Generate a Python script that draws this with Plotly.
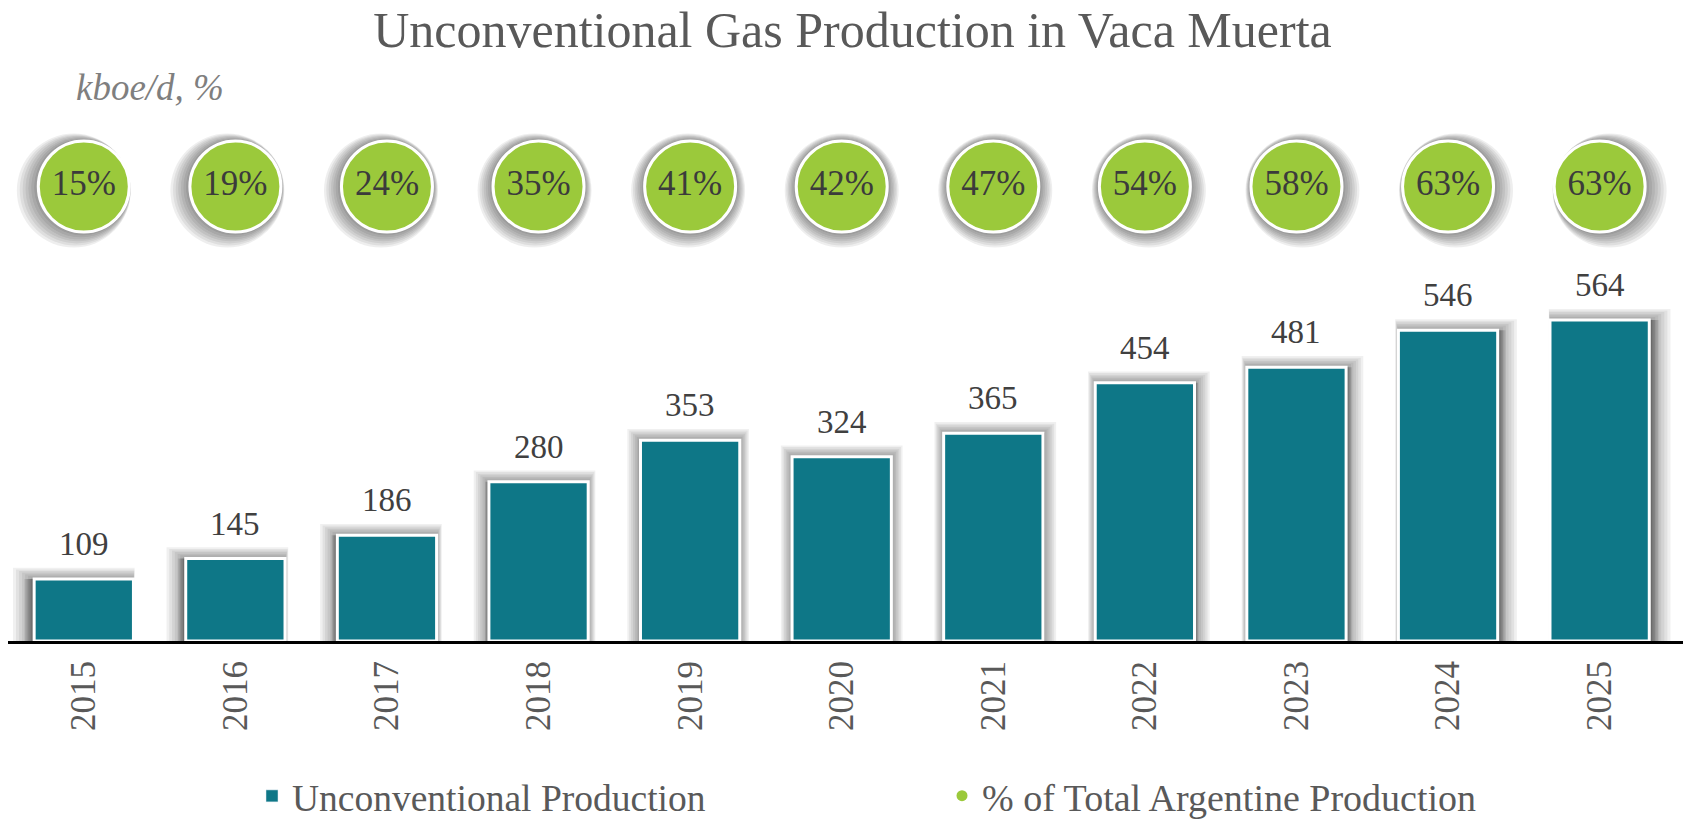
import plotly.graph_objects as go

# ---------------- data ----------------
years = ["2015", "2016", "2017", "2018", "2019", "2020", "2021", "2022", "2023", "2024", "2025"]
production = [109, 145, 186, 280, 353, 324, 365, 454, 481, 546, 564]
share_pct = [15, 19, 24, 35, 41, 42, 47, 54, 58, 63, 63]

title_text = "Unconventional Gas Production in Vaca Muerta"
unit_text = "kboe/d, %"
bar_name = "Unconventional Production"
dot_name = "% of Total Argentine Production"

# ---------------- style ----------------
TEAL = "#0E7787"
GREEN = "#9BC93B"
FONT = "Liberation Serif"
W, H = 1688, 820
ML, MR, MT, MB = 8, 5, 100, 179
plot_w = W - ML - MR
plot_h = H - MT - MB
px_per_unit = 0.569
y_dom_top = 0.72
y_range_max = plot_h * y_dom_top / px_per_unit
cat_px = plot_w / 11.05

idx = list(range(len(years)))
bar_w = 0.655
n = len(years)
mid = (n - 1) / 2

fig = go.Figure()

# bar shadows (soft blur layers, perspective shift away from centre)
NL = 7
for L in range(1, NL + 1):
    spread = 1.6 * L
    shift = [((i - mid) / mid) * (10 / cat_px) * (L / NL) for i in idx]
    fig.add_trace(go.Bar(
        x=idx, y=production, width=bar_w,
        offset=[-bar_w / 2 + s for s in shift],
        marker=dict(color="rgba(0,0,0,0.065)",
                    line=dict(color="rgba(0,0,0,0.06)", width=2 * spread)),
        showlegend=False, hoverinfo="skip",
    ))

# main bars
fig.add_trace(go.Bar(
    x=idx, y=production, width=bar_w, name=bar_name,
    marker=dict(color=TEAL, line=dict(color="white", width=3)),
    showlegend=False,
))

# legend-only bar entry
fig.add_trace(go.Bar(
    x=[None], y=[None], name=bar_name, marker=dict(color=TEAL),
    showlegend=True, legend="legend",
))

# circle shadows
dom2 = [0.76, 0.92]
dom2_px = (dom2[1] - dom2[0]) * plot_h
for L in range(1, NL + 1):
    shift = [((i - mid) / mid) * (10 / cat_px) * (L / NL) for i in idx]
    fig.add_trace(go.Scatter(
        x=[i + s for i, s in zip(idx, shift)],
        y=[0.5 - (4 / dom2_px) * L / NL] * n,
        yaxis="y2", mode="markers",
        marker=dict(size=93 + 3 * L, color="rgba(0,0,0,0.065)", line=dict(width=0)),
        showlegend=False, hoverinfo="skip", cliponaxis=False,
    ))

# circles with percentages
fig.add_trace(go.Scatter(
    x=idx, y=[0.5] * n, yaxis="y2", mode="markers+text",
    text=[f"{p}%" for p in share_pct], textposition="middle center",
    textfont=dict(family=FONT, size=35, color="#3b3b3b"),
    marker=dict(size=91, color=GREEN, line=dict(color="white", width=3)),
    name=dot_name, showlegend=False, cliponaxis=False,
))

# legend-only dot entry
fig.add_trace(go.Scatter(
    x=[None], y=[None], yaxis="y2", mode="markers", name=dot_name,
    marker=dict(size=11, color=GREEN), showlegend=True, legend="legend2",
))

# value labels above bars
for i, v in zip(idx, production):
    fig.add_annotation(
        x=i, y=v, xref="x", yref="y", text=str(v), showarrow=False,
        yanchor="bottom", yshift=15,
        font=dict(family=FONT, size=33, color="#404040"),
    )

# unit note (paper coords of plot area)
fig.add_annotation(
    x=(74 - ML) / plot_w, y=(H - MB - 88) / plot_h, xref="paper", yref="paper",
    xanchor="left", yanchor="middle",
    text=f"<i>{unit_text}</i>", showarrow=False,
    font=dict(family=FONT, size=37, color="#7f7f7f"),
)

fig.update_layout(
    width=W, height=H,
    margin=dict(l=ML, r=MR, t=MT, b=MB),
    paper_bgcolor="white", plot_bgcolor="white",
    barmode="overlay",
    font=dict(family=FONT, color="#595959"),
    title=dict(text=title_text, x=0.505, xref="container", xanchor="center",
               y=1 - 29 / H, yref="container", yanchor="middle",
               font=dict(family=FONT, size=50, color="#595959")),
    xaxis=dict(
        range=[-0.5, 10.55], tickmode="array", tickvals=idx, ticktext=years,
        tickangle=-90, tickfont=dict(family=FONT, size=35, color="#595959"),
        showline=True, linecolor="black", linewidth=3, mirror=False,
        showgrid=False, zeroline=False, ticks="", ticklabelstandoff=3,
        fixedrange=True,
    ),
    yaxis=dict(domain=[0, y_dom_top], range=[0, y_range_max], visible=False,
               showgrid=False, zeroline=False),
    yaxis2=dict(domain=dom2, range=[0, 1], visible=False, anchor="x",
                showgrid=False, zeroline=False),
    legend=dict(orientation="h", xref="container", yref="container",
                x=252 / W, y=1 - 796 / H, xanchor="left", yanchor="middle",
                font=dict(family=FONT, size=37.5, color="#595959"),
                bgcolor="rgba(0,0,0,0)"),
    legend2=dict(orientation="h", xref="container", yref="container",
                 x=942 / W, y=1 - 796 / H, xanchor="left", yanchor="middle",
                 font=dict(family=FONT, size=38, color="#595959"),
                 bgcolor="rgba(0,0,0,0)"),
    showlegend=True,
)

fig.write_html("out.html")
